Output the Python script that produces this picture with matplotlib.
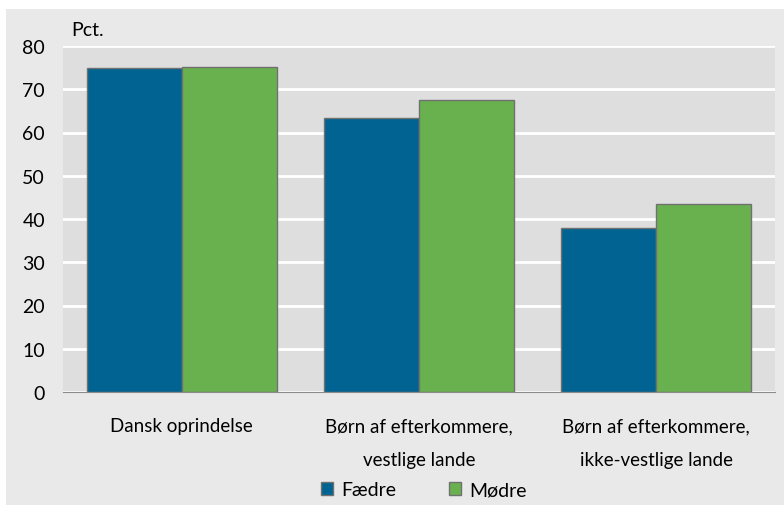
import matplotlib
matplotlib.use("Agg")
import matplotlib.pyplot as plt
import numpy as np
from matplotlib.patches import Rectangle

categories = ["Dansk oprindelse",
              "Børn af efterkommere,\nvestlige lande",
              "Børn af efterkommere,\nikke-vestlige lande"]
faedre = [74.9, 63.4, 38.0]
moedre = [75.2, 67.4, 43.5]
yticks = [0, 10, 20, 30, 40, 50, 60, 70, 80]

BLUE = "#006391"
GREEN = "#69b14f"

plt.rcParams["font.family"] = ["Lato", "DejaVu Sans"]

fig = plt.figure(figsize=(7.84, 5.06), dpi=100)
fig.patch.set_facecolor("white")
fig.patches.append(Rectangle((6 / 784, 0), 1, 1 - 10 / 506, transform=fig.transFigure,
                             facecolor="#e9e9e9", edgecolor="none", zorder=-5))

W, H = 784, 506
ax = fig.add_axes([63 / W, 1 - 393 / H, (775 - 63) / W, (393 - 47) / H])
ax.set_facecolor("#dedede")

x = np.arange(len(categories))
bw = 0.4
ax.bar(x - bw / 2, faedre, bw, color=BLUE, edgecolor="#707070", linewidth=1, label="Fædre", zorder=3)
ax.bar(x + bw / 2, moedre, bw, color=GREEN, edgecolor="#707070", linewidth=1, label="Mødre", zorder=3)

ax.set_xlim(-0.5, 2.5)
ax.set_ylim(0, 80)
ax.set_yticks(yticks)
ax.set_yticklabels([str(v) for v in yticks], fontsize=14)
ax.set_xticks(x)
ax.set_xticklabels(categories, fontsize=13.5, linespacing=2.2)
ax.tick_params(axis="both", length=0)
ax.tick_params(axis="y", pad=13)
ax.tick_params(axis="x", pad=18)
ax.grid(axis="y", color="white", linewidth=2, zorder=1)
for s in ["top", "right", "left"]:
    ax.spines[s].set_visible(False)
ax.spines["bottom"].set_color("#8c8c8c")
ax.spines["bottom"].set_zorder(4)

fig.text(71 / W, 1 - 30 / H, "Pct.", fontsize=14, va="center", ha="left")

leg = fig.legend(loc="center", bbox_to_anchor=(424 / W, 1 - 491 / H), ncol=2, frameon=False,
                 fontsize=14, handlelength=0.6, handleheight=0.6, handletextpad=0.45,
                 columnspacing=2.7)
for h in leg.legend_handles:
    h.set_edgecolor("#707070")

fig.savefig("out.png", dpi=100)
